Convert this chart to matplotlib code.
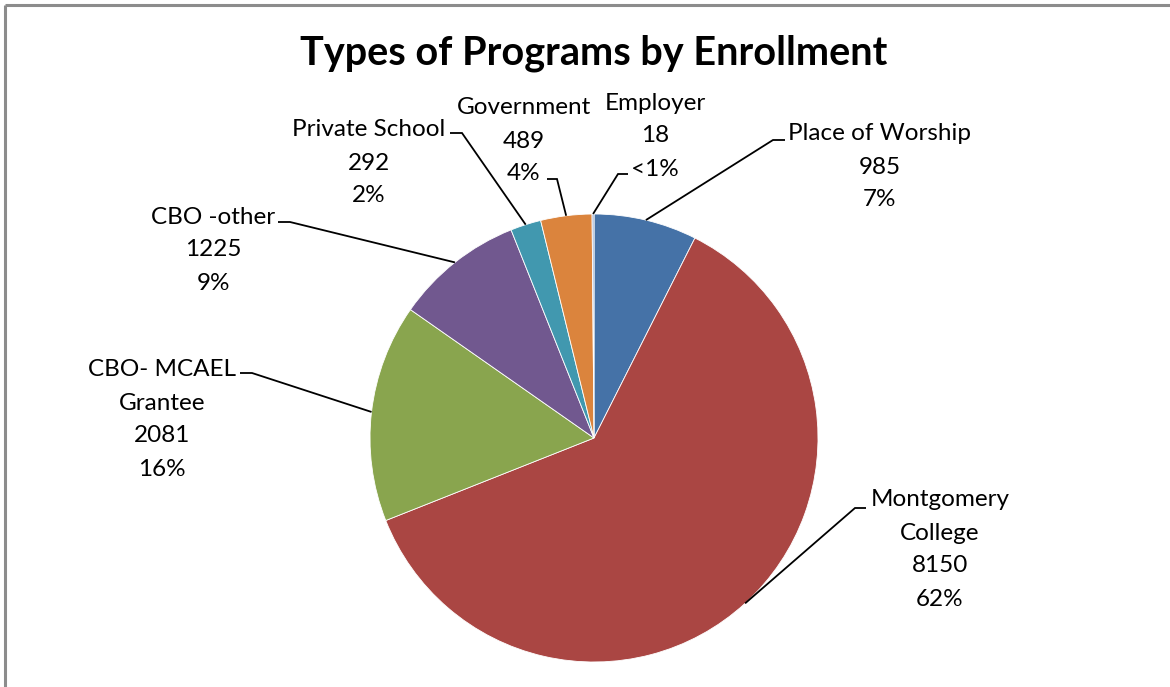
import numpy as np
import matplotlib
matplotlib.use("Agg")
import matplotlib.pyplot as plt

# ---- data ----
categories = ["Place of Worship", "Montgomery\nCollege", "CBO- MCAEL\nGrantee",
              "CBO -other", "Private School", "Government", "Employer"]
values = [985, 8150, 2081, 1225, 292, 489, 18]
colors = ["#4572A7", "#AA4643", "#89A54E", "#71588F", "#4198AF", "#DB843D", "#93A9CF"]
title = "Types of Programs by Enrollment"

# ---- layout (pixel coords, y measured from top) ----
W, H = 1170, 687
center = (594, 438)
radius = 224
# label block: centre x, first-line y
label_pos = [(880, 134), (940, 500), (162, 370), (213, 217), (369, 130), (524, 108), (655, 103)]
# leader: (text-side x, elbow x, y)
leaders = [(785, 773, 140), (866, 855, 508), (240, 252, 373), (278, 290, 222),
           (450, 462, 133), (547, 557, 179), (628, 618, 174)]
line_gap = 33

FONT = "Lato"

def fy(y):
    return H - y

fig = plt.figure(figsize=(W / 100, H / 100), dpi=100)
ax = fig.add_axes([0, 0, 1, 1])

wedges, _ = ax.pie(values, colors=colors, startangle=90, counterclock=False,
                   center=(center[0], fy(center[1])), radius=radius,
                   wedgeprops=dict(edgecolor="white", linewidth=0.6))
ax.set_xlim(0, W)
ax.set_ylim(0, H)
ax.set_aspect("equal")
ax.axis("off")

total = sum(values)
for i, (w, v) in enumerate(zip(wedges, values)):
    pct = v / total * 100
    ptxt = "<1%" if round(pct) < 1 else f"{round(pct):.0f}%"
    lines = categories[i].split("\n") + [str(v), ptxt]
    lx, ly = label_pos[i]
    for k, t in enumerate(lines):
        ax.text(lx, fy(ly + k * line_gap), t, ha="center", va="center",
                fontsize=17.5, family=FONT, color="black")
    mid = np.deg2rad((w.theta1 + w.theta2) / 2)
    ex = w.center[0] + w.r * np.cos(mid)
    ey = w.center[1] + w.r * np.sin(mid)
    tx, bx, yy = leaders[i]
    ax.plot([tx, bx, ex], [fy(yy), fy(yy), ey], color="black", lw=1.3,
            solid_capstyle="butt", solid_joinstyle="miter")

ax.text(594, fy(53), title, ha="center", va="center", fontsize=28.5,
        fontweight="bold", family=FONT, color="black")

# chart frame (left and top edges visible)
ax.plot([5, 5], [0, fy(5)], color="#8c8c8c", lw=2.2, solid_capstyle="butt")
ax.plot([5, W], [fy(5), fy(5)], color="#8c8c8c", lw=2.2, solid_capstyle="butt")

fig.savefig("out.png", dpi=100, facecolor="white")
